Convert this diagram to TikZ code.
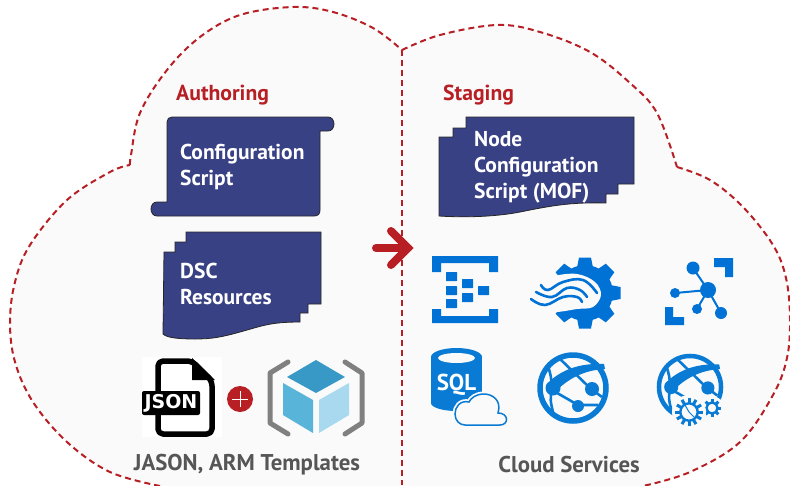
\documentclass[tikz,border=0pt]{standalone}
\usepackage{fontspec}
\setmainfont{PT Sans}
\newfontfamily\jsonfont{DejaVu Sans}
\definecolor{cloudred}{HTML}{B71F24}
\definecolor{cloudfill}{HTML}{FAFAFA}
\definecolor{boxblue}{HTML}{394185}
\definecolor{azure}{HTML}{0072D6}
\definecolor{globeblue}{HTML}{0A7BD4}
\definecolor{labelgray}{HTML}{565656}
\definecolor{cubetop}{HTML}{3999C6}
\definecolor{cubeleft}{HTML}{59B4D9}
\definecolor{cuberight}{HTML}{A9D9EF}
\tikzset{
    bluebox/.style={fill=boxblue,draw=black!85,line width=0.8pt},
    boxtext/.style={text=white,align=left,anchor=west,inner sep=0pt,font=\bfseries\fontsize{21.5}{26}\selectfont},
    headtext/.style={text=cloudred,anchor=west,inner sep=0pt,font=\bfseries\fontsize{21.7}{24}\selectfont},
    foottext/.style={text=labelgray,inner sep=0pt,font=\bfseries\fontsize{22.8}{24}\selectfont},
    redline/.style={draw=cloudred,line width=2pt,dash pattern=on 6pt off 4pt},
    globe/.pic={
        \draw[globeblue,line width=#1] (0,0) circle (33);
        \fill[globeblue] (-22,-8) .. controls (-8,-20) and (10,-25) .. (31,-24) -- (32,-19) .. controls (12,-18) and (-4,-10) .. (-17,3) -- cycle;
        \draw[globeblue,line width=2.6pt] (-14,-30) -- (17,0) -- (29,9);
        \draw[globeblue,line width=2.6pt] (-21,2) -- (5,17) -- (25,17);
        \draw[globeblue,line width=2.6pt] (-25,-22) .. controls (-22,-12) .. (-21,0) .. controls (-23,12) .. (-19,28);
        \fill[globeblue] (-20,0) circle (7.5);
        \fill[globeblue] (19,1) circle (7);
    }
}
\newcommand{\cogwheel}[4]{%
    \fill[cloudfill] (#1,#2) circle (#3+3);
    \foreach \ang in {0,#4,...,359}
        \draw[globeblue,line width=3pt,shift={(#1,#2)}] (\ang:0.6*#3) -- (\ang:#3);
    \draw[globeblue,line width=2.4pt,fill=cloudfill] (#1,#2) circle (0.62*#3);
}
\begin{document}
\begin{tikzpicture}[x=1pt,y=-1pt]
    \useasboundingbox (0,0) rectangle (790,485);
    \clip (0,0) rectangle (790,485);

    % Wolke
    \path[fill=cloudfill] plot[smooth,tension=0.6] coordinates {(130,165) (131,155) (140,113) (167,70) (200,37) (240,15) (293,7) (333,12) (373,28) (402,50)}
        -- plot[smooth,tension=0.6] coordinates {(402,50) (440,35) (497,25) (540,32) (590,52) (630,83) (657,113) (677,167)}
        -- plot[smooth,tension=0.6] coordinates {(677,167) (710,180) (743,207) (773,245) (786,278) (790,318) (787,358) (773,395) (740,442) (690,472) (643,486) (600,495)}
        -- (200,495)
        -- plot[smooth,tension=0.6] coordinates {(200,495) (160,485) (110,472) (67,442) (33,402) (15,362) (10,322) (15,282) (30,245) (67,200) (110,172) (130,165)};
    \draw[redline] plot[smooth,tension=0.6] coordinates {(130,165) (131,155) (140,113) (167,70) (200,37) (240,15) (293,7) (333,12) (373,28) (402,50)};
    \draw[redline] plot[smooth,tension=0.6] coordinates {(402,50) (440,35) (497,25) (540,32) (590,52) (630,83) (657,113) (677,167)};
    \draw[redline] plot[smooth,tension=0.6] coordinates {(677,167) (710,180) (743,207) (773,245) (786,278) (790,318) (787,358) (773,395) (740,442) (690,472) (643,486)};
    \draw[redline] plot[smooth,tension=0.6] coordinates {(160,486) (110,472) (67,442) (33,402) (15,362) (10,322) (15,282) (30,245) (67,200) (110,172) (130,165)};
    \draw[redline] (402,50) -- (402,485);

    % Pfeil
    \coordinate (arrowstart) at (376,248);
    \coordinate (arrowtip) at (408,248);
    \coordinate (arrowup) at (391,231);
    \coordinate (arrowdown) at (391,265);
    \draw[cloudred,line width=8pt,line cap=round,line join=miter] (arrowstart) -- (arrowtip);
    \draw[cloudred,line width=8pt,line cap=round,line join=miter] (arrowup) -- (arrowtip) -- (arrowdown);

    % Kästen
    \draw[bluebox] (172,117) -- (328,117) .. controls (336,117) and (336,131) .. (328,131) -- (320,131) -- (320,210) .. controls (320,214) and (318,216) .. (314,216)
        -- (157,216) .. controls (149,216) and (149,202) .. (157,202) -- (167,202) -- (167,122) .. controls (167,119) and (169,117) .. (172,117) -- cycle;
    \draw[bluebox] (186,232) -- (321,232) -- (321,304) -- (308,304) -- (308,313) -- (300,313) -- (300,322) .. controls (270,322) and (262,326) .. (240,332)
        .. controls (222,337) and (212,339) .. (195,339) .. controls (180,339) and (167,338) .. (163,334) -- (164,252) -- (175,252) -- (175,242) -- (186,242) -- cycle;
    \draw[bluebox] (466,117) -- (634,117) -- (634,184) -- (618,184) -- (618,194) -- (606,194) -- (606,203) .. controls (570,202) and (550,206) .. (520,212)
        .. controls (500,216) and (470,218) .. (439,216) -- (439,137) -- (453,137) -- (453,128) -- (466,128) -- cycle;

    % Beschriftungen
    \node[headtext] (authoring) at (176,95) {Authoring};
    \node[headtext] (staging) at (443,95) {Staging};
    \node[boxtext] (confscript) at (180,167) {Configuration\\Script};
    \node[boxtext] (dscres) at (180,284) {DSC\\Resources};
    \node[boxtext] (nodescript) at (474,167) {Node\\Configuration\\Script (MOF)};
    \node[foottext] (jasonlabel) at (247,465) {JASON, ARM Templates};
    \node[foottext] (cloudlabel) at (569,465) {Cloud Services};

    % JSON
    \fill[white] (142,357) rectangle (222,437);
    \draw[black,line width=5.5pt,line join=round,rounded corners=5pt] (158,361) -- (192,361) -- (212,381) -- (212,434) -- (158,434) -- cycle;
    \fill[black] (192,358) -- (215,380) -- (192,380) -- cycle;
    \fill[black,rounded corners=2pt] (142,391) rectangle (200,415);
    \node[text=white,inner sep=0pt,font=\jsonfont\bfseries\fontsize{19}{19}\selectfont] (jsontext) at (171,403) {JSON};

    % Plus
    \fill[cloudred] (240,399) circle (13);
    \draw[white,line width=0.9pt] (232,399) -- (248,399);
    \draw[white,line width=0.9pt] (240,391) -- (240,407);

    % ARM
    \draw[black!50,line width=5pt,line cap=round,line join=round] (288,362) -- (270,373) -- (270,423) -- (288,434);
    \draw[black!50,line width=5pt,line cap=round,line join=round] (345,362) -- (362,373) -- (362,423) -- (345,434);
    \fill[cubetop] (316,360) -- (345,377) -- (316,393) -- (287,377) -- cycle;
    \fill[cubeleft] (283,383) -- (313,400) -- (313,433) -- (283,415) -- cycle;
    \fill[cuberight] (319,400) -- (349,383) -- (349,415) -- (319,433) -- cycle;

    % Event Hub
    \fill[azure] (432,256) -- (498,256) -- (498,272) -- (489,272) -- (489,263) -- (441,263) -- (441,272) -- (432,272) -- cycle;
    \fill[azure] (432,323) -- (498,323) -- (498,309) -- (489,309) -- (489,316) -- (441,316) -- (441,309) -- (432,309) -- cycle;
    \foreach \x/\y in {446/272,446/286,446/299,462/279,462/293,478/286}
        \fill[azure,rounded corners=0.5pt] (\x,\y) rectangle (\x+11,\y+9);

    % Zahnrad mit Wellen
    \fill[azure] (585,293) circle (28);
    \foreach \ang in {0,45,...,315}
        \fill[azure,shift={(585,293)},rotate=\ang] (20,-9) -- (35.5,-6) -- (35.5,6) -- (20,9) -- cycle;
    \fill[cloudfill] plot[smooth cycle,tension=0.6] coordinates {(553,276) (577,274) (595,282) (601,295) (593,307) (577,309) (557,312) (528,313) (528,283)};
    \draw[azure,line width=2.6pt,line cap=round] plot[smooth,tension=0.7] coordinates {(541,285) (548,290) (563,282) (583,280) (597,293)};
    \draw[azure,line width=2.6pt,line cap=round] plot[smooth,tension=0.7] coordinates {(536,292) (552,297) (567,288) (580,290) (587,297)};
    \draw[azure,line width=2.6pt,line cap=round] plot[smooth,tension=0.7] coordinates {(531,299) (545,305) (563,297) (577,297) (582,302)};

    % IoT
    \fill[azure] (714,258) -- (733,258) -- (733,277) -- (725,277) -- (725,267) -- (714,267) -- cycle;
    \fill[azure] (665,307) -- (673,307) -- (673,317) -- (684,317) -- (684,325) -- (665,325) -- cycle;
    \draw[azure,line width=2pt] (693,268) -- (708,290);
    \draw[azure,line width=2pt] (675,293) -- (708,290);
    \draw[azure,line width=2pt] (697,309) -- (708,290);
    \draw[azure,line width=2pt] (721,313) -- (708,290);
    \fill[azure] (708,290) circle (8);
    \fill[azure] (693,268) circle (6.5);
    \fill[azure] (675,293) circle (5);
    \fill[azure] (697,309) circle (5);
    \fill[azure] (721,313) circle (6);

    % SQL
    \fill[globeblue] (431,357) rectangle (482,403);
    \fill[globeblue] (456.5,357) ellipse (25.5 and 9);
    \fill[globeblue] (456.5,403) ellipse (25.5 and 8);
    \fill[cloudfill] (456.5,358) ellipse (18.5 and 5);
    \node[text=white,inner sep=0pt,font=\bfseries\fontsize{23}{23}\selectfont] (sqltext) at (456.5,385) {SQL};
    \draw[cloudfill,line width=5pt,fill=cloudfill] (465,425) -- (500,425) .. controls (509,425) and (509,413) .. (498,413) .. controls (502,400) and (492,394) .. (484,394)
        .. controls (476,394) and (471,398) .. (469,402) .. controls (460,400) and (455,407) .. (455,414) .. controls (455,421) and (460,425) .. (465,425) -- cycle;
    \draw[globeblue,line width=1.5pt,fill=cloudfill] (465,425) -- (500,425) .. controls (509,425) and (509,413) .. (498,413) .. controls (502,400) and (492,394) .. (484,394)
        .. controls (476,394) and (471,398) .. (469,402) .. controls (460,400) and (455,407) .. (455,414) .. controls (455,421) and (460,425) .. (465,425) -- cycle;

    % Weltkugeln
    \pic at (573,388) {globe={5.5pt}};
    \fill[globeblue] (578,406) circle (6);
    \pic[scale=0.94] at (690,387) {globe={4.5pt}};
    \cogwheel{712}{408}{9}{45}
    \cogwheel{689}{412}{14}{30}
    \draw[globeblue,line width=1pt] (685,405) -- (689,412) -- (694,417);
\end{tikzpicture}
\end{document}
